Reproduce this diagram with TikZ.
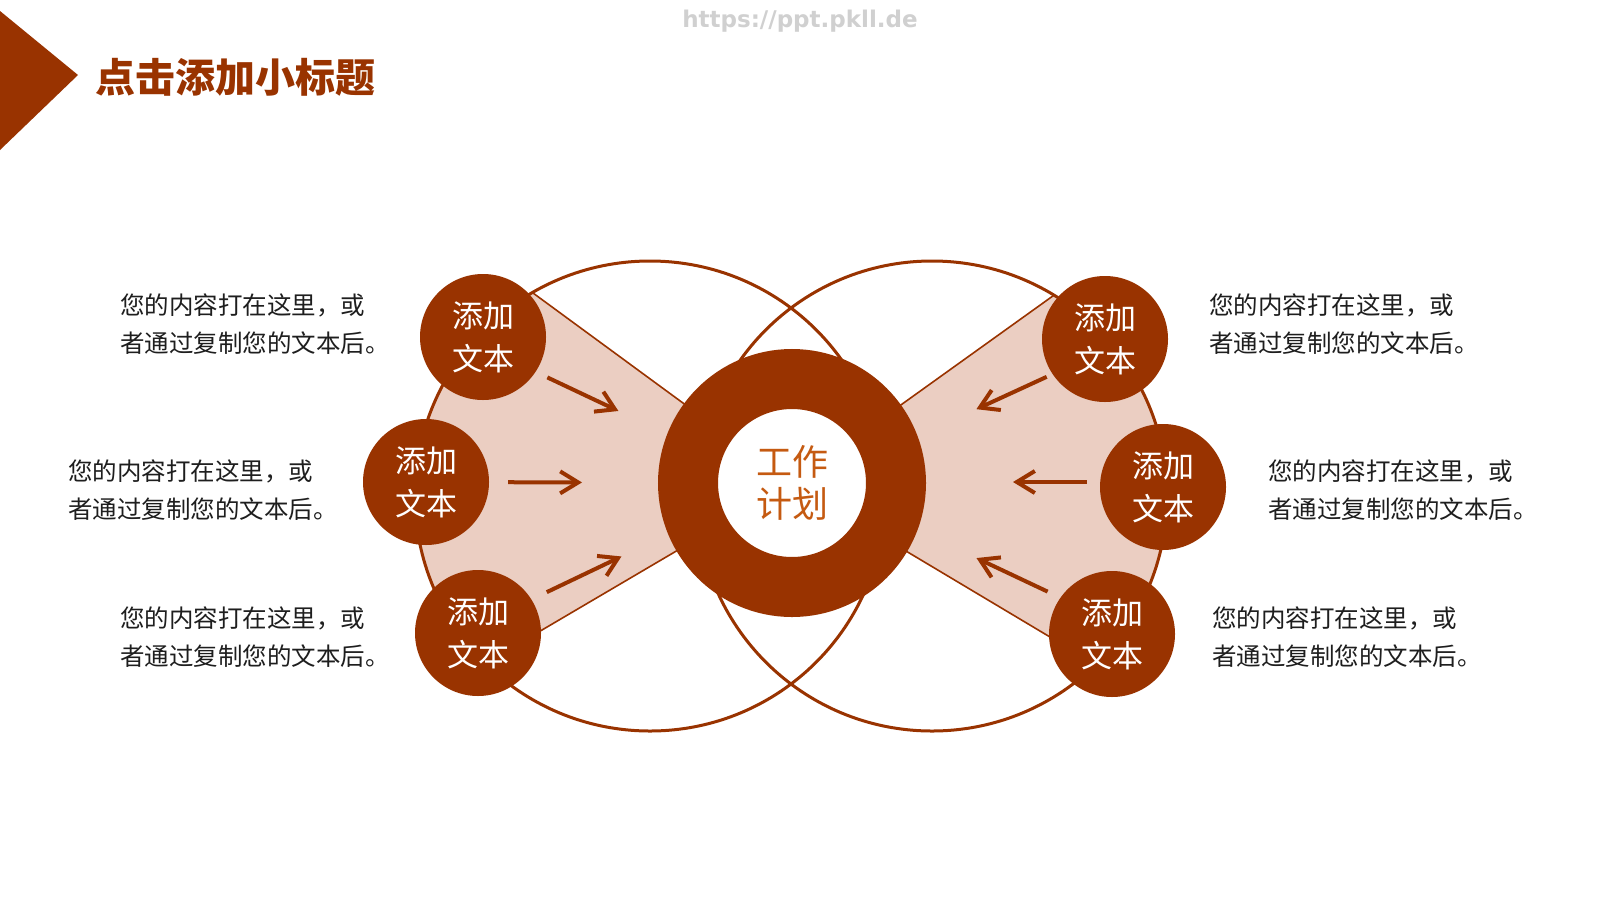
\documentclass[tikz,border=0pt]{standalone}
\usepackage{fontspec}
\setmainfont{Noto Sans CJK SC}
\newfontfamily\wmfont{DejaVu Sans}
\usetikzlibrary{arrows.meta}
\definecolor{rust}{RGB}{153,51,0}
\definecolor{pinkfill}{RGB}{235,206,194}
\definecolor{ctext}{RGB}{197,90,17}
\definecolor{desc}{RGB}{30,30,30}
\definecolor{wmgray}{RGB}{208,208,208}
\begin{document}
\begin{tikzpicture}[x=1pt,y=-1pt,
  bubble/.style={circle, fill=rust, inner sep=0pt, minimum size=126pt, text=white, align=center, font=\fontsize{31}{43}\selectfont},
  desctext/.style={anchor=west, align=left, inner sep=0pt, text=desc, font=\fontsize{24.5}{38}\selectfont},
  arr/.style={draw=rust, line width=4pt, -{Straight Barb[length=18pt,width=22pt]}},
  bigring/.style={draw=rust, line width=3pt},
  wedgeline/.style={draw=rust, line width=1.6pt},
  hub/.style={circle, draw=rust, line width=60pt, fill=white, minimum size=208pt, inner sep=0pt, text=ctext, align=center, font=\fontsize{36}{42}\selectfont}]
\useasboundingbox (0,0) rectangle (1600,900);
\fill[white] (0,0) rectangle (1600,900);

% watermark and title
\node[font=\wmfont\bfseries\fontsize{23}{26}\selectfont, text=wmgray] (wm) at (800,21) {https://ppt.pkll.de};
\fill[rust] (0,11) -- (78,75) -- (0,150) -- cycle;
\node[anchor=west, inner sep=0pt, text=rust, font=\bfseries\fontsize{40}{44}\selectfont] (title) at (95,77) {点击添加小标题};

% hub position for wedges
\coordinate (hubc) at (792,483);

% left wedge
\begin{scope}
  \clip (650,496) circle[radius=235pt];
  \fill[pinkfill] (hubc) -- (274,103) -- (292,777) -- cycle;
  \draw[wedgeline] (274,103) -- (hubc) -- (292,777);
\end{scope}
% right wedge
\begin{scope}
  \clip (932,496) circle[radius=235pt];
  \fill[pinkfill] (hubc) -- (1322,103) -- (1308,791) -- cycle;
  \draw[wedgeline] (1322,103) -- (hubc) -- (1308,791);
\end{scope}

% big circles
\draw[bigring] (650,496) circle[radius=235pt];
\draw[bigring] (932,496) circle[radius=235pt];

% hub ring
\node[hub] (center) at (hubc) {工作\\计划};

% bubbles
\node[bubble] (lt) at (483,337) {添加\\文本};
\node[bubble] (lm) at (426,482) {添加\\文本};
\node[bubble] (lb) at (478,633) {添加\\文本};
\node[bubble] (rt) at (1105,339) {添加\\文本};
\node[bubble] (rm) at (1163,487) {添加\\文本};
\node[bubble] (rb) at (1112,634) {添加\\文本};

% arrows
\draw[arr, transform canvas={yshift=-10pt}, shorten <=8pt, shorten >=58pt] (lt) -- (center);
\draw[arr, shorten <=19pt, shorten >=76pt] (lm) -- (center);
\draw[arr, transform canvas={yshift=8pt}, shorten <=13pt, shorten >=55pt] (lb) -- (center);
\draw[arr, transform canvas={yshift=-11pt}, shorten <=1pt, shorten >=69pt] (rt) -- (center);
\draw[arr, transform canvas={yshift=5pt}, shorten <=13pt, shorten >=87pt] (rm.west) -- (rm.west -| center.east);
\draw[arr, transform canvas={yshift=12pt}, shorten <=8pt, shorten >=70pt] (rb) -- (center);

% descriptions
\node[desctext] (dlt) at (120,324) {您的内容打在这里，或\\者通过复制您的文本后。};
\node[desctext] (dlm) at (68,490) {您的内容打在这里，或\\者通过复制您的文本后。};
\node[desctext] (dlb) at (120,637) {您的内容打在这里，或\\者通过复制您的文本后。};
\node[desctext] (drt) at (1209,324) {您的内容打在这里，或\\者通过复制您的文本后。};
\node[desctext] (drm) at (1268,490) {您的内容打在这里，或\\者通过复制您的文本后。};
\node[desctext] (drb) at (1212,637) {您的内容打在这里，或\\者通过复制您的文本后。};
\end{tikzpicture}
\end{document}
